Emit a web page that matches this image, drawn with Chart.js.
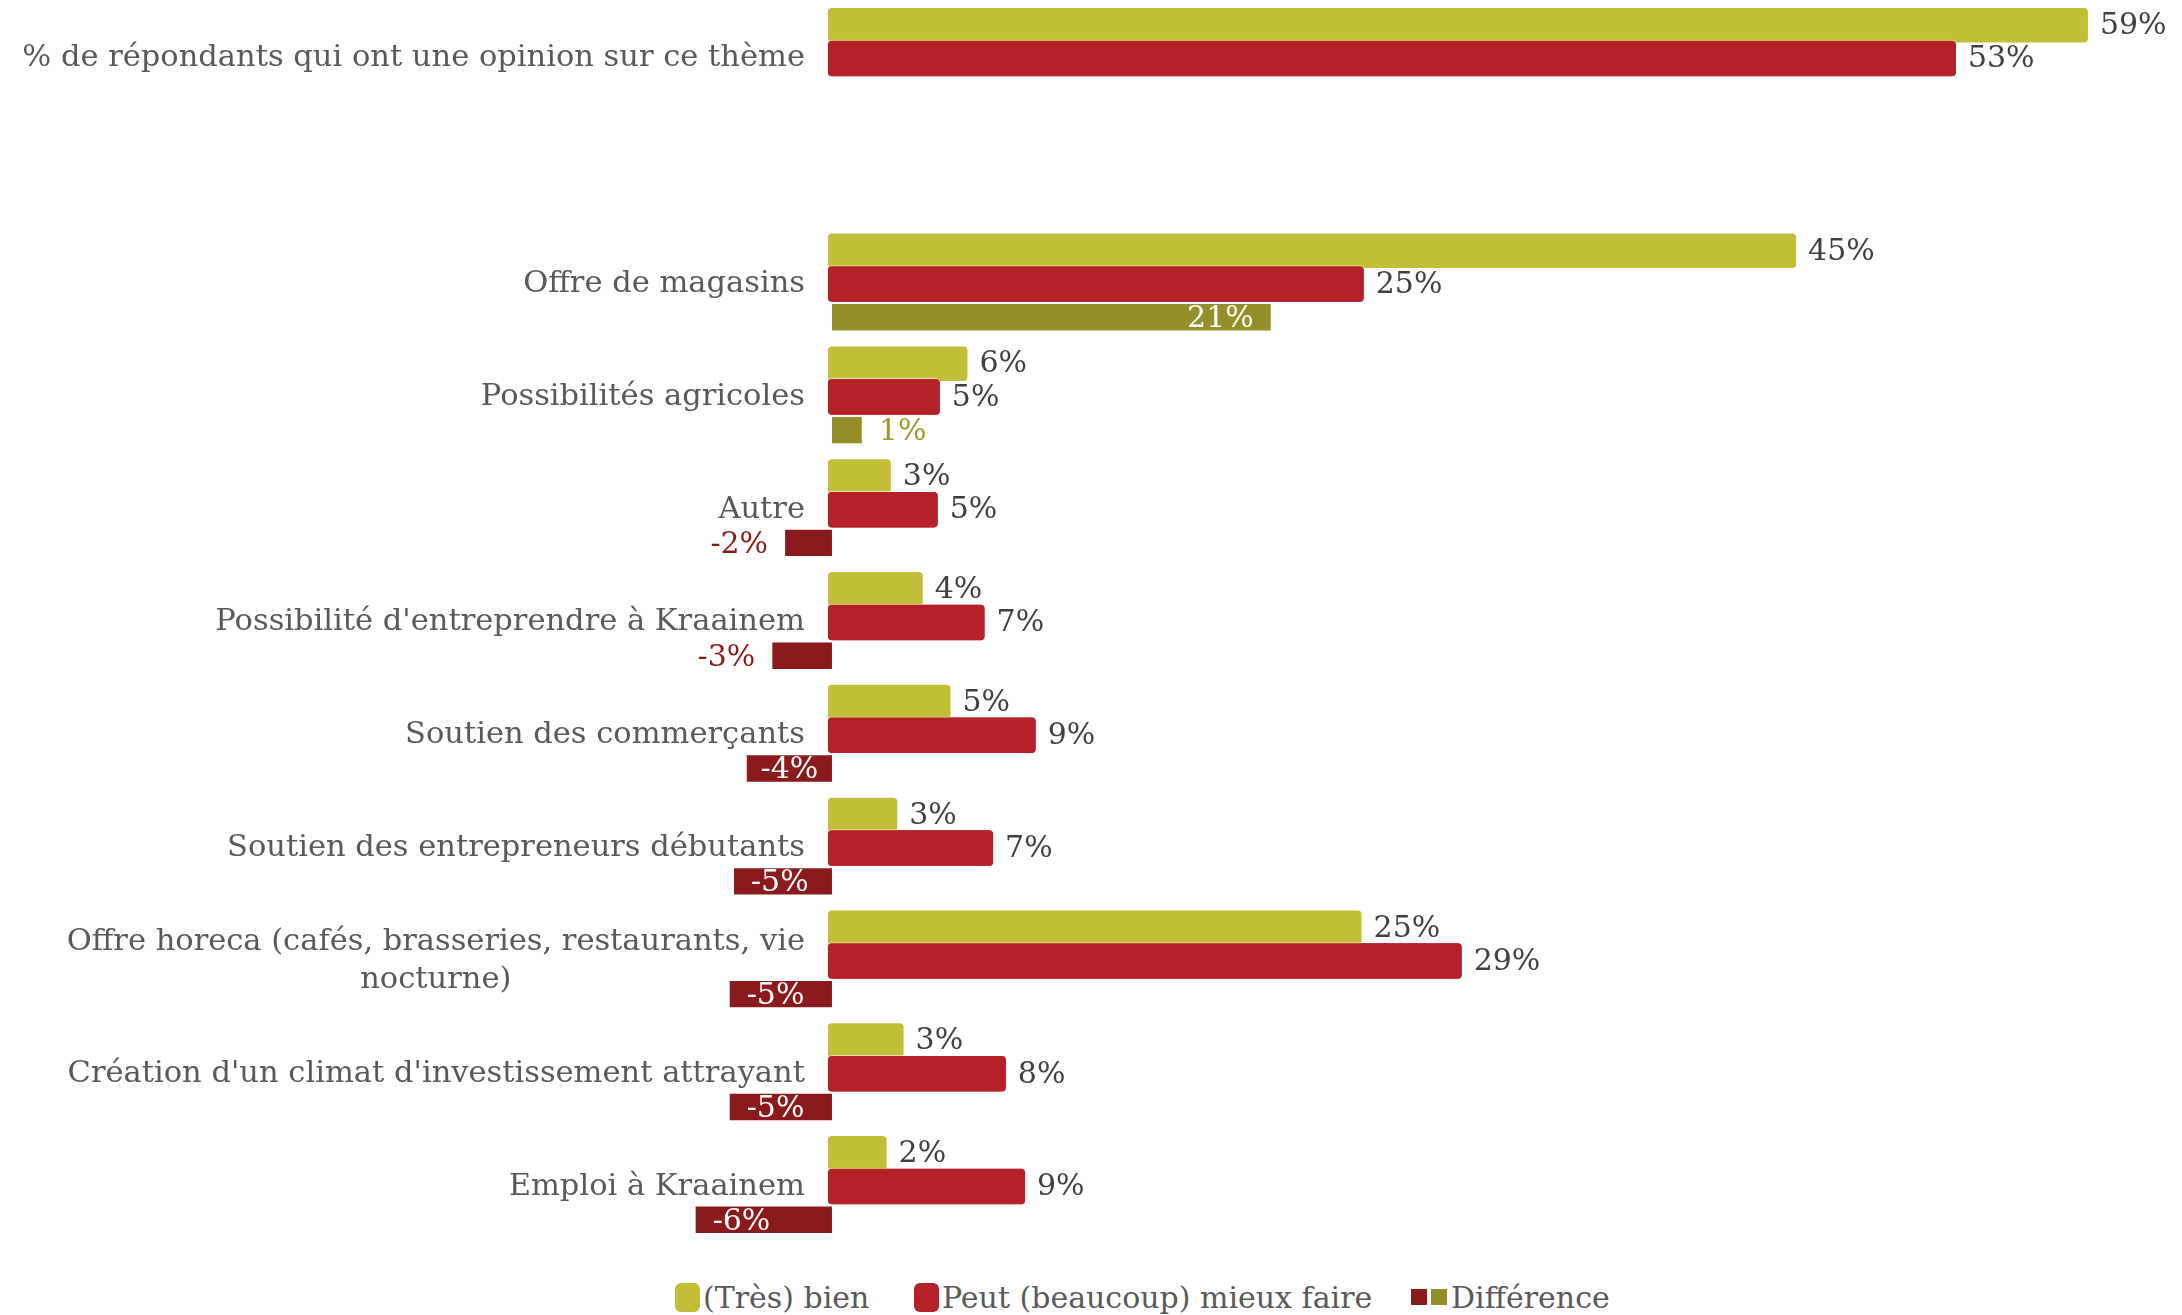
<!DOCTYPE html>
<html lang="fr">
<head>
<meta charset="utf-8">
<script src="https://cdn.jsdelivr.net/npm/chart.js@4.4.1/dist/chart.umd.min.js"></script>
<style>
  html, body { margin:0; padding:0; background:#fff; }
  #wrap { position:relative; width:2182px; height:1315px; }
  #box  { position:absolute; left:0; top:0; width:2182px; height:1250px; }
  .lg   { position:absolute; top:1278px; height:38px; display:flex; align-items:center;
          font:30px 'DejaVu Serif'; color:#595959; white-space:nowrap; }
  .mk   { width:25px; height:29px; border-radius:6px; margin-right:3px; }
  .sq   { width:16px; height:16px; margin-right:4px; }
</style>
</head>
<body>
<div id="wrap">
  <div id="box"><canvas id="chart"></canvas></div>
  <div class="lg" style="left:675px"><div class="mk" style="background:#C3BE38"></div>(Très) bien</div>
  <div class="lg" style="left:914px"><div class="mk" style="background:#B52128"></div>Peut (beaucoup) mieux faire</div>
  <div class="lg" style="left:1411px"><div class="sq" style="background:#8B1A1D"></div><div class="sq" style="background:#948F2A"></div>Différence</div>
</div>
<script>
// ── Data (labels are rounded) ──
const CATEGORIES = [
    '% de répondants qui ont une opinion sur ce thème',
    '',
    'Offre de magasins',
    'Possibilités agricoles',
    'Autre',
    "Possibilité d'entreprendre à Kraainem",
    'Soutien des commerçants',
    'Soutien des entrepreneurs débutants',
    ['Offre horeca (cafés, brasseries, restaurants, vie', 'nocturne)'],
    "Création d'un climat d'investissement attrayant",
    'Emploi à Kraainem',
];
const BIEN   = [58.8, null, 45.1, 6.2, 2.6, 4.1, 5.4, 2.9, 24.7, 3.2, 2.4];
const MIEUX  = [52.6, null, 24.8, 4.9, 4.8, 7.0, 9.4, 7.4, 29.4, 8.0, 8.9];
const DIFF   = [null, null, 20.6, 1.4, -2.2, -2.8, -4.0, -4.6, -4.8, -4.8, -6.4];

const YELLOW   = '#C3BE38';
const RED      = '#B52128';
const DIFF_POS = '#948F2A';
const DIFF_NEG = '#8B1A1D';
const BAR_BASE = -0.446;   // bars start a little left of the zero of their axis

const pct = v => Math.round(v) + '%';

// ── Category labels (drawn left of the bars) ──
const catLabels = {
    id: 'catLabels',
    afterDatasetsDraw(chart) {
        const { ctx, scales: { x, y } } = chart;
        const right = x.getPixelForValue(BAR_BASE) - 22;
        ctx.save();
        ctx.font = '30.5px "DejaVu Serif"';
        ctx.fillStyle = '#595959';
        ctx.textBaseline = 'middle';
        ctx.textAlign = 'center';
        CATEGORIES.forEach((c, i) => {
            const lines = Array.isArray(c) ? c : [c];
            const w  = Math.max(...lines.map(l => ctx.measureText(l).width));
            const cy = y.getPixelForValue(i);
            lines.forEach((l, j) =>
                ctx.fillText(l, right - w / 2, cy + (j - (lines.length - 1) / 2) * 38));
        });
        ctx.restore();
    },
};

// ── Red bars sit over the yellow ones, then value labels ──
const valueLabels = {
    id: 'valueLabels',
    afterDatasetsDraw(chart) {
        const { ctx } = chart;
        chart.getDatasetMeta(1).data.forEach(el => el.draw(ctx));

        ctx.save();
        ctx.font = '30px "DejaVu Serif"';
        ctx.textBaseline = 'middle';
        chart.data.datasets.forEach((ds, di) => {
            const meta = chart.getDatasetMeta(di);
            meta.data.forEach((bar, i) => {
                const v = ds.data[i];
                if (v == null) return;
                const txt = pct(v);
                const tw  = ctx.measureText(txt).width;
                if (di < 2) {
                    ctx.fillStyle = '#404040';
                    ctx.textAlign = 'left';
                    ctx.fillText(txt, bar.x + 11, bar.y + 1);
                    return;
                }
                const len = Math.abs(bar.x - bar.base);
                const dir = v >= 0 ? 1 : -1;
                if (tw + 20 < len) {
                    const inset = Math.min(17, (len - tw) / 2);
                    ctx.fillStyle = '#fff';
                    ctx.textAlign = v >= 0 ? 'right' : 'left';
                    ctx.fillText(txt, bar.x - dir * inset, bar.y + 2);
                } else {
                    ctx.fillStyle = v >= 0 ? '#9C992C' : DIFF_NEG;
                    ctx.textAlign = v >= 0 ? 'left' : 'right';
                    ctx.fillText(txt, bar.x + dir * 17, bar.y + 2);
                }
            });
        });
        ctx.restore();
    },
};

const barStyle = {
    borderColor:   'rgba(255,255,255,0.55)',
    borderWidth:   1,
    borderRadius:  5,
    borderSkipped: false,
    base:          BAR_BASE,
    xAxisID:       'x',
};

new Chart(document.getElementById('chart'), {
    type: 'bar',
    data: {
        labels: CATEGORIES,
        datasets: [
            { label: '(Très) bien', data: BIEN, backgroundColor: YELLOW,
              barPercentage: 1.10, ...barStyle },
            { label: 'Peut (beaucoup) mieux faire', data: MIEUX, backgroundColor: RED,
              barPercentage: 1.13, ...barStyle },
            { label: 'Différence', data: DIFF, xAxisID: 'x2',
              backgroundColor: c => (c.raw ?? 0) >= 0 ? DIFF_POS : DIFF_NEG,
              borderWidth: 0, barPercentage: 0.795 },
        ],
    },
    options: {
        indexAxis:           'y',
        responsive:          true,
        maintainAspectRatio: false,
        animation:           false,
        layout: { padding: { left: 600, right: 7, top: 2, bottom: 7 } },
        datasets: { bar: { categoryPercentage: 0.883 } },
        plugins: {
            legend:  { display: false },
            tooltip: { enabled: false },
        },
        scales: {
            x:  { type: 'linear', min: -11.10, max: 62.84, display: false },
            x2: { type: 'linear', axis: 'x', min: -10.89, max: 63.05, display: false },
            y:  { display: false },
        },
    },
    plugins: [catLabels, valueLabels],
});
</script>
</body>
</html>
